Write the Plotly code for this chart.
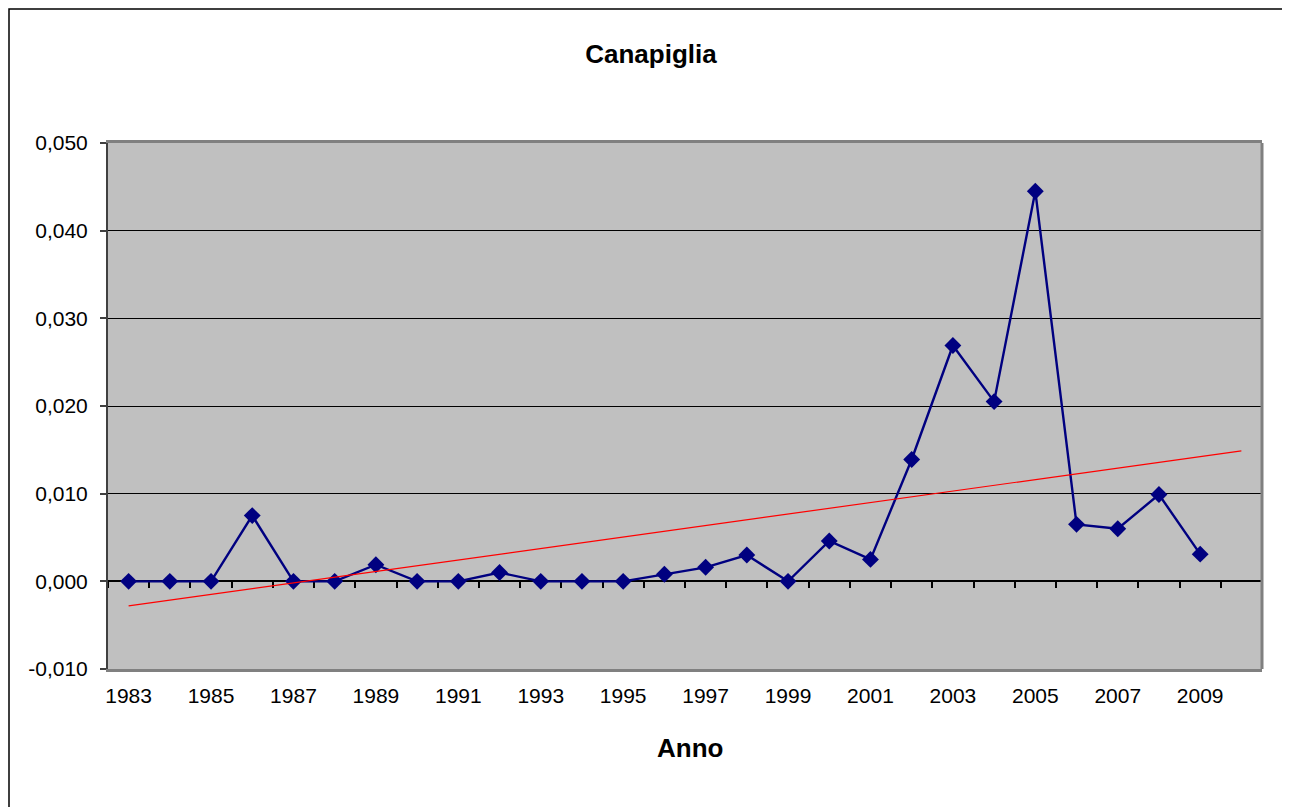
import numpy as np
import plotly.graph_objects as go

# valori
anni = list(range(1983, 2010))
valori = [0.0, 0.0, 0.0, 0.0075, 0.0, 0.0, 0.0019, 0.0, 0.0, 0.0010,
          0.0, 0.0, 0.0, 0.0008, 0.0016, 0.0030, 0.0, 0.0046, 0.0025, 0.0139,
          0.0269, 0.0205, 0.0445, 0.0065, 0.0060, 0.0099, 0.0031]
anni_trend = list(range(1983, 2011))
etichette_x = list(range(1983, 2010, 2))
tick_y = [-0.010, 0.000, 0.010, 0.020, 0.030, 0.040, 0.050]
testo_y = [f"{v:.3f}".replace(".", ",") for v in tick_y]

# linea di tendenza lineare (come Excel, con previsione di un periodo)
coef = np.polyfit(anni, valori, 1)
trend = np.polyval(coef, anni_trend)

font = "Liberation Sans, Arial, sans-serif"

# la pagina ha un margine di 8px attorno alla figura
W, H = 1282, 799
L, T, PW, PH = 100, 135, 1154, 526

fig = go.Figure()

fig.add_trace(go.Scatter(
    x=anni, y=valori, mode="lines+markers",
    line=dict(color="#000080", width=2.4),
    marker=dict(symbol="diamond", size=13, color="#000080"),
    showlegend=False, hoverinfo="x+y"))

fig.add_trace(go.Scatter(
    x=anni_trend, y=trend, mode="lines",
    line=dict(color="#ff0000", width=1.2),
    showlegend=False, hoverinfo="skip"))

# asse delle categorie che incrocia y = 0 (solo linea e tacche)
fig.add_trace(go.Scatter(x=[None], y=[None], xaxis="x2", showlegend=False))

fig.update_layout(
    width=W, height=H,
    margin=dict(l=L, r=W - L - PW, t=T, b=H - T - PH),
    paper_bgcolor="white", plot_bgcolor="#c0c0c0",
    separators=",.",
    font=dict(family=font, size=21, color="black"),
    title=dict(text="<b>Canapiglia</b>", x=(643 - L) / PW, xanchor="center", xref="paper",
               y=1 - 46 / H, yanchor="middle", yref="container",
               font=dict(size=26, color="black")),
    xaxis=dict(range=[1982.5, 2010.5], tickvals=etichette_x,
               showgrid=False, zeroline=False,
               showline=True, mirror=True, linecolor="#808080", linewidth=3,
               ticks="outside", ticklen=0, ticklabelstandoff=6,
               tickfont=dict(size=21), title=dict(text="")),
    xaxis2=dict(overlaying="x", anchor="free", position=1 / 6, side="bottom",
                range=[1982.5, 2010.5], tickvals=[a + 0.5 for a in range(1982, 2011)],
                showticklabels=False, ticks="outside", ticklen=6, tickwidth=1.5,
                tickcolor="black", showline=True, linecolor="black", linewidth=1.5,
                showgrid=False, zeroline=False, layer="below traces"),
    yaxis=dict(range=[-0.010, 0.050], tickvals=tick_y, ticktext=testo_y,
               showgrid=True, gridcolor="black", gridwidth=1, zeroline=False,
               showline=True, linecolor="#404040", linewidth=2,
               ticks="outside", ticklen=6, tickcolor="#404040", tickwidth=1.5,
               ticklabelstandoff=8, tickfont=dict(size=21)),
    annotations=[
        dict(text="<b>Anno</b>", xref="paper", yref="paper",
             x=(682 - L) / PW, y=(T + PH - 740) / PH, xanchor="center", yanchor="middle",
             showarrow=False, font=dict(size=26)),
    ],
    shapes=[
        # bordo destro dell'area del grafico
        dict(type="line", xref="paper", yref="paper", x0=1, x1=1, y0=0, y1=1,
             line=dict(color="#808080", width=3)),
        # cornice esterna
        dict(type="rect", xref="paper", yref="paper",
             x0=(1 - L) / PW, x1=(1280 - L) / PW,
             y0=(T + PH - 815) / PH, y1=(T + PH - 1) / PH,
             line=dict(color="black", width=1.5), layer="below"),
    ],
)

fig.write_html("out.html")
